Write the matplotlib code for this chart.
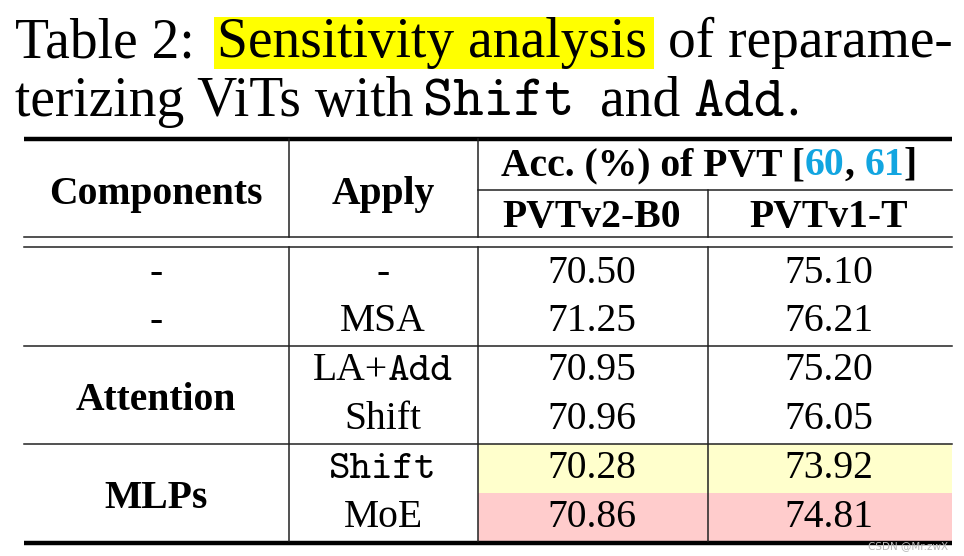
import os
import matplotlib
matplotlib.use("Agg")
import matplotlib.pyplot as plt
from matplotlib.patches import Rectangle
from matplotlib.font_manager import FontProperties

# ---------------- data ----------------
header_components = "Components"
header_apply = "Apply"
header_group = "Acc. (%) of PVT"
header_refs = ["60", "61"]
model_names = ["PVTv2-B0", "PVTv1-T"]

components = ["-", "-", "Attention", "Attention", "MLPs", "MLPs"]
apply_labels = ["-", "MSA", "LA+Add", "Shift", "Shift", "MoE"]
apply_mono = [None, None, "Add", None, "Shift", None]   # part rendered in typewriter font
pvtv2_b0 = [70.50, 71.25, 70.95, 70.96, 70.28, 70.86]
pvtv1_t = [75.10, 76.21, 75.20, 76.05, 73.92, 74.81]
row_highlight = [None, None, None, None, "#FFFFCC", "#FFCCCC"]

# ---------------- style ----------------
SERIF = "Liberation Serif"
MONO_FILE = os.path.join(matplotlib.get_data_path(), "fonts", "ttf", "cmtt10.ttf")
W, H = 964, 556
fig = plt.figure(figsize=(W / 100, H / 100), dpi=100)
ax = fig.add_axes([0, 0, 1, 1])
ax.set_xlim(0, W)
ax.set_ylim(H, 0)
ax.axis("off")
fig.canvas.draw()
renderer = fig.canvas.get_renderer()

def fp(size, weight="normal", mono=False):
    if mono:
        if os.path.exists(MONO_FILE):
            return FontProperties(fname=MONO_FILE, size=size)
        return FontProperties(family="Liberation Mono", size=size)
    return FontProperties(family=SERIF, size=size, weight=weight)

def text_width(s, prop):
    t = ax.text(0, 0, s, fontproperties=prop)
    w = t.get_window_extent(renderer).width
    t.remove()
    return w

def space_width(prop):
    return text_width("a a", prop) - text_width("aa", prop)

def draw_segments(x, y, segs, align="left"):
    widths = []
    for s, p, c in segs:
        widths.append(space_width(p) if s == " " else text_width(s, p))
    total = sum(widths)
    if align == "center":
        x = x - total / 2
    cx = x
    for (s, p, c), w in zip(segs, widths):
        if s != " ":
            ax.text(cx, y, s, fontproperties=p, color=c, va="baseline", ha="left")
        cx += w
    return cx

# ---------------- caption ----------------
TS = 40
cap = fp(TS)
capm = fp(TS * 1.04, mono=True)
ax.add_patch(Rectangle((214, 17), 440, 52, facecolor="#FFFF00", edgecolor="none", zorder=0))
ax.text(15, 57, "Table 2:", fontproperties=cap, va="baseline")
ax.text(217, 57, "Sensitivity analysis", fontproperties=cap, va="baseline")
ax.text(668, 57, "of reparame-", fontproperties=cap, va="baseline")
ax.text(15, 116, "terizing ViTs with", fontproperties=cap, va="baseline")
ax.text(423, 116, "Shift", fontproperties=capm, va="baseline")
ax.text(600, 116, "and", fontproperties=cap, va="baseline")
end = draw_segments(693, 116, [("Add", capm, "black")])
ax.text(end + 2, 116, ".", fontproperties=cap, va="baseline")

# ---------------- table geometry ----------------
XL, XR = 24, 952
VX = [289, 478, 708]
COLC = [156, 383, 592, 829]
Y_TOP, Y_SUB, Y_D1, Y_D2, Y_BOT = 138.5, 190, 237, 247, 542.5
row_base = [283, 331, 380, 429, 478, 527]
cell_top = [247, 296, 346, 395, 444, 493]
cell_bot = [296, 346, 395, 444, 493, 541]
group_lines = [346, 444]
THIN = 1.1
THICK = 3.2

FS = 28.5
reg = fp(FS)
bold = fp(FS, "bold")
mono = fp(FS * 1.04, mono=True)

# highlighted cells
for i, col in enumerate(row_highlight):
    if col:
        ax.add_patch(Rectangle((VX[1], cell_top[i]), XR - VX[1], cell_bot[i] - cell_top[i],
                               facecolor=col, edgecolor="none", zorder=0))

# rules
ax.plot([XL, XR], [Y_TOP, Y_TOP], color="black", lw=THICK, solid_capstyle="butt")
ax.plot([XL, XR], [Y_BOT, Y_BOT], color="black", lw=THICK, solid_capstyle="butt")
ax.plot([VX[1], XR], [Y_SUB, Y_SUB], color="#222222", lw=THIN)
for yy in (Y_D1, Y_D2):
    ax.plot([XL, XR], [yy, yy], color="#222222", lw=THIN)
for yy in group_lines:
    ax.plot([XL, XR], [yy, yy], color="#222222", lw=THIN)
for k, x in enumerate(VX):
    y0 = Y_TOP if k < 2 else Y_SUB
    ax.plot([x, x], [y0, Y_D1], color="#222222", lw=THIN)
    ax.plot([x, x], [Y_D2, Y_BOT - 1.5], color="#222222", lw=THIN)

# header
ax.text(COLC[0], 204, header_components, fontproperties=bold, ha="center", va="baseline")
ax.text(COLC[1], 204, header_apply, fontproperties=bold, ha="center", va="baseline")
cyan = "#12A5E0"
draw_segments(709, 175, [(header_group + " [", bold, "black"), (header_refs[0], bold, cyan),
                         (",", bold, "black"), (" ", bold, "black"),
                         (header_refs[1], bold, cyan), ("]", bold, "black")], align="center")
ax.text(COLC[2], 227, model_names[0], fontproperties=bold, ha="center", va="baseline")
ax.text(COLC[3], 227, model_names[1], fontproperties=bold, ha="center", va="baseline")

# body
done = set()
for i, comp in enumerate(components):
    if comp == "-":
        ax.text(COLC[0], row_base[i], comp, fontproperties=reg, ha="center", va="baseline")
    elif comp not in done:
        done.add(comp)
        idx = [j for j, c in enumerate(components) if c == comp]
        yb = (row_base[idx[0]] + row_base[idx[-1]]) / 2 + 5
        ax.text(COLC[0], yb, comp, fontproperties=bold, ha="center", va="baseline")
    lab = apply_labels[i]
    m = apply_mono[i]
    if m is None:
        ax.text(COLC[1], row_base[i], lab, fontproperties=reg, ha="center", va="baseline")
    elif m == lab:
        ax.text(COLC[1], row_base[i], lab, fontproperties=mono, ha="center", va="baseline")
    else:
        pre = lab[: len(lab) - len(m)]
        draw_segments(COLC[1], row_base[i], [(pre, reg, "black"), (m, mono, "black")], align="center")
    ax.text(COLC[2], row_base[i], f"{pvtv2_b0[i]:.2f}", fontproperties=reg, ha="center", va="baseline")
    ax.text(COLC[3], row_base[i], f"{pvtv1_t[i]:.2f}", fontproperties=reg, ha="center", va="baseline")

# watermark
ax.text(948, 546, "CSDN @Mr.zwX", fontsize=7.5, color="#b8b8b8", ha="right", va="center",
        family="DejaVu Sans")

fig.savefig("out.png", dpi=100)
